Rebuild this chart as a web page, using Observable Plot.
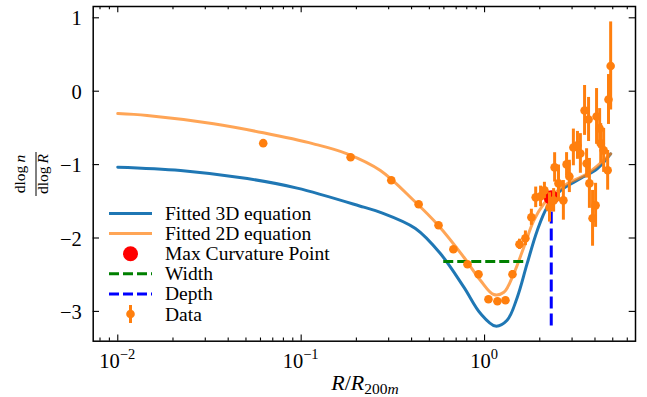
<!DOCTYPE html>
<html><head><meta charset="utf-8">
<script src="https://cdn.jsdelivr.net/npm/d3@7"></script>
<script src="https://cdn.jsdelivr.net/npm/@observablehq/plot@0.6"></script>
<style>
html,body{margin:0;padding:0;background:#fff;}
#chart{width:647px;height:397px;}
</style></head><body><div id="chart"></div>
<script>
// ---- data ----
const fit3dR = [0.01, 0.02198, 0.05082, 0.09506, 0.2193, 0.2704, 0.4198, 0.5754, 0.7709, 0.9506, 1.146, 1.327, 1.507, 1.706, 1.936, 2.193, 2.594, 3.334, 4.111, 4.87];
const fit3dY = [-1.035, -1.08, -1.19, -1.32, -1.58, -1.65, -1.87, -2.215, -2.67, -3.03, -3.20, -3.12, -2.81, -2.35, -1.90, -1.58, -1.353, -1.19, -1.057, -0.853];
const fit2dR = [0.01, 0.01445, 0.0333, 0.0622, 0.1167, 0.1782, 0.2704, 0.4111, 0.5585, 0.7709, 0.9506, 1.122, 1.274, 1.442, 1.637, 1.854, 2.104, 2.382, 2.818, 3.622, 4.87];
const fit2dY = [-0.305, -0.331, -0.444, -0.567, -0.717, -0.853, -1.08, -1.489, -1.826, -2.262, -2.579, -2.77, -2.739, -2.488, -2.125, -1.762, -1.534, -1.398, -1.262, -1.125, -0.853];
const dataR = [0.0621, 0.186, 0.310, 0.437, 0.561, 0.676, 0.807, 0.927, 1.05, 1.175, 1.30, 1.42, 1.55, 1.67, 1.80, 1.90, 2.02, 2.12, 2.26, 2.38, 2.41, 2.53, 2.69, 2.80, 2.90, 3.05, 3.21, 3.33, 3.51, 3.60, 3.69, 3.73, 3.88, 4.03, 4.08, 4.24, 4.30, 4.46, 4.69, 4.74, 4.87];
const dataY = [-0.708, -0.899, -1.214, -1.541, -1.827, -2.154, -2.358, -2.494, -2.834, -2.861, -2.848, -2.494, -2.086, -2.004, -1.718, -1.446, -1.433, -1.351, -1.583, -1.487, -1.038, -1.256, -1.487, -0.997, -1.161, -0.766, -0.738, -0.848, -0.262, -0.984, -0.385, -1.256, -1.732, -1.555, -0.344, -0.507, -0.711, -0.806, -1.078, -0.113, 0.344];
const dataErr = [0, 0, 0, 0, 0, 0, 0.02, 0.02, 0.02, 0.02, 0.02, 0.05, 0.07, 0.10, 0.11, 0.14, 0.14, 0.11, 0.20, 0.16, 0.20, 0.25, 0.27, 0.16, 0.22, 0.25, 0.19, 0.27, 0.34, 0.20, 0.30, 0.34, 0.38, 0.30, 0.38, 0.27, 0.27, 0.30, 0.27, 0.34, 0.60];
const widthR = [0.599, 1.637];
const widthY = -2.32;
const depthR = 2.31;
const depthY = [-3.20, -1.45];
const maxCurvR = [2.31];
const maxCurvY = [-1.45];
const xMajor = [0.01, 0.1, 1];
const xTickExp = ["\u22122", "\u22121", "0"];
const xMinor = [0.008, 0.009, 0.02, 0.03, 0.04, 0.05, 0.06, 0.07, 0.08, 0.09, 0.2, 0.3, 0.4, 0.5, 0.6, 0.7, 0.8, 0.9, 2, 3, 4, 5, 6];
const yMajor = [-3, -2, -1, 0, 1];
const yTickLabels = ["\u22123", "\u22122", "\u22121", "0", "1"];
const legendLabels = ["Fitted 3D equation", "Fitted 2D equation", "Max Curvature Point", "Width", "Depth", "Data"];

// ---- colours ----
const C3D = "#1f77b4", CORG = "#ff7f0e";

const W = 647, H = 397, mL = 92.7, mR = 12, mT = 6, mB = 56.3;
const fh = H - mT - mB, fw = W - mL - mR;

const fit3d = fit3dR.map((r, i) => ({r, y: fit3dY[i]}));
const fit2d = fit2dR.map((r, i) => ({r, y: fit2dY[i]}));
const data = dataR.map((r, i) => ({r, y: dataY[i], e: dataErr[i]}));
const widthSeg = [{x1: widthR[0], x2: widthR[1], y: widthY}];
const depthSeg = [{x: depthR, y1: depthY[0], y2: depthY[1]}];
const maxCurv = maxCurvR.map((r, i) => ({r, y: maxCurvY[i]}));

const tk = {stroke: "#000", strokeWidth: 1.1};
const chart = Plot.plot({
  width: W, height: H,
  marginLeft: mL, marginRight: mR, marginTop: mT, marginBottom: mB,
  x: {type: "log", domain: [Math.pow(10, -2.134), Math.pow(10, 0.823)], axis: null},
  y: {domain: [-3.406, 1.154], axis: null},
  style: {background: "#fff", overflow: "visible", fontFamily: '"Liberation Serif","Times New Roman",serif'},
  marks: [
    Plot.line(fit3d, {x: "r", y: "y", stroke: C3D, strokeWidth: 3, curve: "catmull-rom"}),
    Plot.line(fit2d, {x: "r", y: "y", stroke: CORG, strokeOpacity: 0.7, strokeWidth: 3, curve: "catmull-rom"}),
    Plot.ruleY(widthSeg, {y: "y", x1: "x1", x2: "x2", stroke: "green", strokeWidth: 3, strokeDasharray: "10,4"}),
    Plot.ruleX(depthSeg, {x: "x", y1: "y1", y2: "y2", stroke: "blue", strokeWidth: 3, strokeDasharray: "12,5"}),
    Plot.dot(maxCurv, {x: "r", y: "y", r: 7.5, fill: "red"}),
    Plot.ruleX(data, {x: "r", y1: d => d.y - d.e, y2: d => d.y + d.e, stroke: CORG, strokeWidth: 3}),
    Plot.dot(data, {x: "r", y: "y", r: 4.3, fill: CORG}),
    Plot.tickX(xMajor, {x: d => d, insetTop: fh - 6.3, ...tk}),
    Plot.tickX(xMajor, {x: d => d, insetBottom: fh - 6.3, ...tk}),
    Plot.tickX(xMinor, {x: d => d, insetTop: fh - 3.2, ...tk}),
    Plot.tickX(xMinor, {x: d => d, insetBottom: fh - 3.2, ...tk}),
    Plot.tickY(yMajor, {y: d => d, insetRight: fw - 6.3, ...tk}),
    Plot.tickY(yMajor, {y: d => d, insetLeft: fw - 6.3, ...tk}),
    Plot.frame({stroke: "#000", strokeWidth: 1.5})
  ]
});
document.getElementById("chart").appendChild(chart);

const svg = d3.select(chart);
const xs = chart.scale("x"), ys = chart.scale("y");
const FONT = '"Liberation Serif","Times New Roman",serif';

// x tick labels
xMajor.forEach((v, i) => {
  const t = svg.append("text").attr("x", xs.apply(v)).attr("y", 368)
    .attr("text-anchor", "middle").style("font-family", FONT).style("font-size", "20.5px").attr("fill", "#000");
  t.append("tspan").text("10");
  t.append("tspan").attr("dy", -9.5).style("font-size", "14.5px").text(xTickExp[i]);
});
// y tick labels
yMajor.forEach((v, i) => {
  svg.append("text").attr("x", 81.7).attr("y", ys.apply(v) + 8)
    .attr("text-anchor", "end").style("font-family", FONT).style("font-size", "20.5px").attr("fill", "#000")
    .text(yTickLabels[i]);
});
// x label
{
  const t = svg.append("text").attr("x", 365).attr("y", 390).attr("text-anchor", "middle")
    .style("font-family", FONT).style("font-size", "22px").attr("fill", "#000");
  t.append("tspan").style("font-style", "italic").text("R");
  t.append("tspan").text("/");
  t.append("tspan").style("font-style", "italic").text("R");
  t.append("tspan").style("font-size", "15.5px").attr("dy", 3.5).text("200");
  t.append("tspan").style("font-size", "15.5px").style("font-style", "italic").text("m");
}
// y label (fraction)
{
  const g = svg.append("g").attr("transform", "translate(36,174) rotate(-90)")
    .style("font-family", FONT).style("font-size", "15.5px").attr("fill", "#000");
  const n = g.append("text").attr("x", 0).attr("y", -11).attr("text-anchor", "middle");
  n.append("tspan").text("dlog\u2009");
  n.append("tspan").style("font-style", "italic").text("n");
  const d = g.append("text").attr("x", 0).attr("y", 12.4).attr("text-anchor", "middle");
  d.append("tspan").text("dlog\u2009");
  d.append("tspan").style("font-style", "italic").text("R");
  g.append("line").attr("x1", -22).attr("x2", 22).attr("y1", 0).attr("y2", 0)
    .attr("stroke", "#000").attr("stroke-width", 1);
}
// legend
{
  const lg = svg.append("g").style("font-family", FONT).style("font-size", "19.5px").attr("fill", "#000");
  const hx1 = 109, hx2 = 152, tx = 165;
  legendLabels.forEach((lab, i) => {
    const cy = 213.5 + 20.1 * i;
    if (i === 0) lg.append("line").attr("x1", hx1).attr("x2", hx2).attr("y1", cy).attr("y2", cy).attr("stroke", C3D).attr("stroke-width", 3);
    if (i === 1) lg.append("line").attr("x1", hx1).attr("x2", hx2).attr("y1", cy).attr("y2", cy).attr("stroke", CORG).attr("stroke-opacity", 0.7).attr("stroke-width", 3);
    if (i === 2) lg.append("circle").attr("cx", (hx1 + hx2) / 2).attr("cy", cy).attr("r", 7.5).attr("fill", "red");
    if (i === 3) lg.append("line").attr("x1", hx1).attr("x2", hx2).attr("y1", cy).attr("y2", cy).attr("stroke", "green").attr("stroke-width", 3).attr("stroke-dasharray", "10,4");
    if (i === 4) lg.append("line").attr("x1", hx1).attr("x2", hx2).attr("y1", cy).attr("y2", cy).attr("stroke", "blue").attr("stroke-width", 3).attr("stroke-dasharray", "10,4");
    if (i === 5) {
      lg.append("line").attr("x1", (hx1 + hx2) / 2).attr("x2", (hx1 + hx2) / 2).attr("y1", cy - 9).attr("y2", cy + 9).attr("stroke", CORG).attr("stroke-width", 3);
      lg.append("circle").attr("cx", (hx1 + hx2) / 2).attr("cy", cy).attr("r", 4.3).attr("fill", CORG);
    }
    lg.append("text").attr("x", tx).attr("y", cy + 6.5).attr("text-anchor", "start").text(lab);
  });
}
</script>
</body></html>
